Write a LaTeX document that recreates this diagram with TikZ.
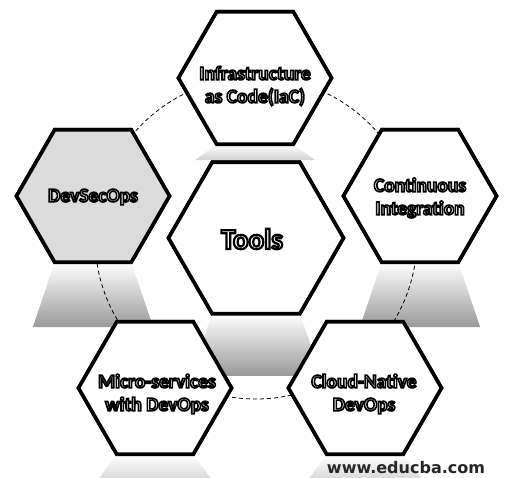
\documentclass[tikz,border=0pt]{standalone}
\usepackage{fontspec}
\setmainfont{Carlito}
\newfontfamily\wmfont{DejaVu Sans}
\usetikzlibrary{shapes.geometric}

% white letters with a black stroked rim (fill, then stroke)
\newcommand{\outl}[2][1.6]{\special{pdf:literal direct 2 Tr #1 w 0 0 0 RG}#2\special{pdf:literal direct 0 Tr}}

\tikzset{
  hexa/.style={regular polygon, regular polygon sides=6, draw=black,
    line width=3.6pt, fill=white, inner sep=0pt, outer sep=0pt,
    minimum size=153pt},
  bighexa/.style={hexa, minimum size=175pt},
  lbl/.style={font=\bfseries\fontsize{19.5}{23}\selectfont, align=center,
    text=white, inner sep=0pt},
  biglbl/.style={lbl, font=\bfseries\fontsize{29}{33}\selectfont},
  ring/.style={line width=0.8pt, dash pattern=on 4pt off 3pt},
  shadowfill/.style={top color=white, bottom color=black!40},
  faintshadow/.style={top color=white, bottom color=black!18},
  watermark/.style={font=\wmfont\bfseries\fontsize{16}{18}\selectfont,
    text=black!85, inner sep=0pt}
}

\begin{document}
\begin{tikzpicture}[x=1pt, y=-1pt]
  \useasboundingbox (0,0) rectangle (507,478);

  % hexagon frames (placed first so their anchors can be used below)
  \path
    (255,78)  node[hexa] (iac) {}
    (93,196)  node[hexa, fill=black!14] (dso) {}
    (420,196) node[hexa] (ci) {}
    (256,238) node[bighexa] (tools) {}
    (155,388) node[hexa] (micro) {}
    (365,388) node[hexa] (cloud) {};

  % soft cast shadows under each cell
  \foreach \h/\d/\s in {iac/16/faintshadow, dso/65/shadowfill, ci/65/shadowfill,
                        tools/62/shadowfill, micro/30/faintshadow, cloud/30/faintshadow}{
    \shade[\s]
      (\h.240) -- (\h.300) -- ([shift={(22,\d)}]\h.300)
      -- ([shift={(-22,\d)}]\h.240) -- cycle;
  }

  % dashed ring linking the outer cells
  \draw[ring] (tools.center) circle[radius=161];

  % redraw the cells on top of shadows and ring
  \path
    (255,78)  node[hexa] {}
    (93,196)  node[hexa, fill=black!14] {}
    (420,196) node[hexa] {}
    (256,238) node[bighexa] {}
    (155,388) node[hexa] {}
    (365,388) node[hexa] {};

  % labels
  \node[lbl]    (tiac)   at (255,86)  {\outl{Infrastructure}\\\outl{as Code(IaC)}};
  \node[lbl]    (tdso)   at (93,197)  {\outl{DevSecOps}};
  \node[lbl]    (tci)    at (420,198) {\outl{Continuous}\\\outl{Integration}};
  \node[biglbl] (ttools) at (252,239) {\outl[2.2]{Tools}};
  \node[lbl]    (tmicro) at (157,394) {\outl{Micro-services}\\\outl{with DevOps}};
  \node[lbl]    (tcloud) at (364,394) {\outl{Cloud-Native}\\\outl{DevOps}};

  \node[watermark] (wm) at (406,468) {www.educba.com};
\end{tikzpicture}
\end{document}
